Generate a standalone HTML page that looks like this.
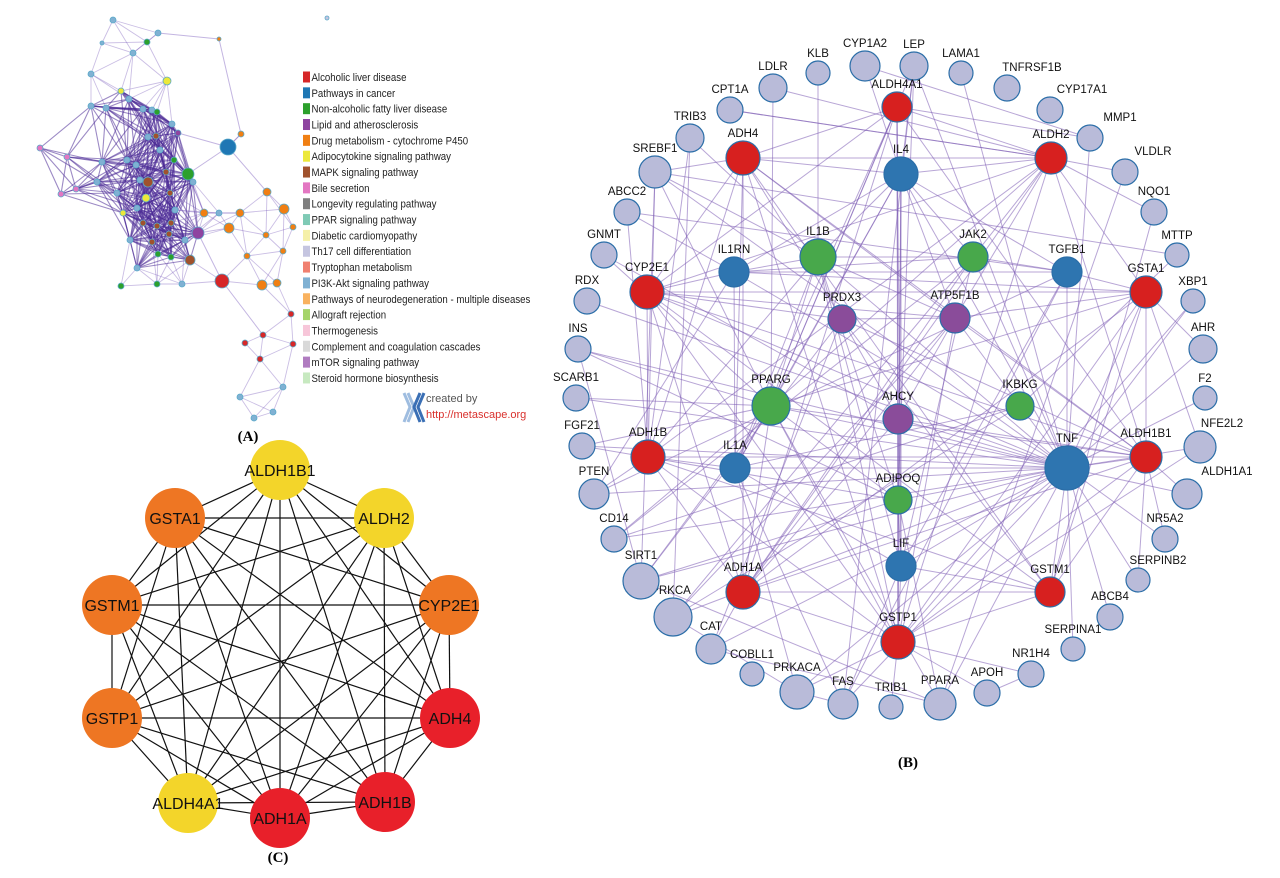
<!DOCTYPE html>
<html><head><meta charset="utf-8"><style>
html,body{margin:0;padding:0;background:#fff;}
svg{display:block;font-family:"Liberation Sans",sans-serif;}
</style></head><body>
<svg id="fig" width="1280" height="878" viewBox="0 0 1280 878" xmlns="http://www.w3.org/2000/svg">
<g id="pa-edges"></g>
<g id="pa-nodes"></g>
<g id="pa-legend"></g>
<g>
<path d="M404 393 L410 407 L404 422 M408 393 L414 407 L408 422" stroke="#9fbde0" stroke-width="3" fill="none"/>
<path d="M420 393 L414 407 L420 422 M424 393 L418 407 L424 422" stroke="#3a6fb5" stroke-width="3" fill="none"/>
<text x="426" y="402" font-size="11" fill="#555">created by</text>
<text x="426" y="418" font-size="11" fill="#d9302c">http://metascape.org</text>
</g>
<text x="248" y="441" font-size="15" font-weight="bold" font-family="Liberation Serif,serif" text-anchor="middle">(A)</text>
<g id="pb-edges"></g>
<g id="pb-nodes"></g>
<text x="908" y="767" font-size="15" font-weight="bold" font-family="Liberation Serif,serif" text-anchor="middle">(B)</text>
<g id="pc-edges"></g>
<g id="pc-nodes"></g>
<text x="278" y="862" font-size="15" font-weight="bold" font-family="Liberation Serif,serif" text-anchor="middle">(C)</text>
</svg>
<script>
const NS="http://www.w3.org/2000/svg";
// ---- Panel A legend data
const legendLabels=["Alcoholic liver disease","Pathways in cancer","Non-alcoholic fatty liver disease","Lipid and atherosclerosis","Drug metabolism - cytochrome P450","Adipocytokine signaling pathway","MAPK signaling pathway","Bile secretion","Longevity regulating pathway","PPAR signaling pathway","Diabetic cardiomyopathy","Th17 cell differentiation","Tryptophan metabolism","PI3K-Akt signaling pathway","Pathways of neurodegeneration - multiple diseases","Allograft rejection","Thermogenesis","Complement and coagulation cascades","mTOR signaling pathway","Steroid hormone biosynthesis"];
const legendColors=["#d62728","#1f77b4","#2ca02c","#8e44a0","#f07f13","#ece83a","#a0522d","#e377c2","#7f7f7f","#7fcab5","#f5f0a8","#c5c5e0","#f08070","#80b1d3","#f9b25f","#a6d46a","#f7c6d9","#d9d9d9","#b07cc0","#c7e9c0"];
// ---- Panel A nodes [x,y,r,colorIndex]
const aNodes=[[113,20,3,13],[158,33,3,13],[219,39,2,4],[327,18,2,11],[102,43,2,13],[147,42,3,2],[133,53,3,13],[91,74,3,13],[167,81,4,5],[121,91,3,5],[91,106,3,13],[106,108,3,13],[129,99,3,13],[143,109,3,13],[152,110,3,13],[157,112,3,2],[172,124,3,13],[178,133,3,3],[241,134,3,4],[228,147,8,1],[40,148,3,7],[67,157,3,7],[102,162,3,13],[127,160,3,13],[148,137,3,13],[156,136,3,6],[174,160,3,2],[166,172,3,6],[188,174,6,2],[193,182,3,13],[148,182,5,6],[97,182,3,13],[76,189,3,7],[61,194,3,7],[117,193,3,13],[146,198,4,5],[137,208,3,13],[123,213,3,5],[170,193,3,6],[204,213,4,4],[219,213,3,13],[240,213,4,4],[267,192,4,4],[284,209,5,4],[229,228,5,4],[198,233,6,3],[293,227,3,4],[266,235,3,4],[283,251,3,4],[247,256,3,4],[143,223,3,6],[157,226,3,6],[171,223,3,6],[169,234,3,6],[152,242,3,6],[158,254,3,2],[171,257,3,2],[190,260,5,6],[137,268,3,13],[121,286,3,2],[157,284,3,2],[182,284,3,13],[222,281,7,0],[262,285,5,4],[277,283,4,4],[291,314,3,0],[263,335,3,0],[245,343,3,0],[293,344,3,0],[260,359,3,0],[240,397,3,13],[283,387,3,13],[254,418,3,13],[273,412,3,13],[136,165,3,13],[160,150,3,13],[140,180,3,13],[175,210,3,13],[130,240,3,13],[185,240,3,13]];
// ---- Panel B nodes
const bNames=["LDLR","KLB","CYP1A2","LEP","LAMA1","TNFRSF1B","CYP17A1","MMP1","VLDLR","NQO1","MTTP","XBP1","AHR","F2","NFE2L2","ALDH1A1","NR5A2","SERPINB2","ABCB4","SERPINA1","NR1H4","APOH","PPARA","TRIB1","FAS","PRKACA","COBLL1","CAT","PRKCA","SIRT1","CD14","PTEN","FGF21","SCARB1","INS","RDX","GNMT","ABCC2","SREBF1","TRIB3","CPT1A",
"ALDH4A1","ADH4","ALDH2","IL4","IL1B","JAK2","IL1RN","TGFB1","CYP2E1","GSTA1","PRDX3","ATP5F1B","PPARG","AHCY","IKBKG","ADH1B","IL1A","TNF","ALDH1B1","ADIPOQ","LIF","ADH1A","GSTM1","GSTP1"];
const bX=[773,818,865,914,961,1007,1050,1090,1125,1154,1177,1193,1203,1205,1200,1187,1165,1138,1110,1073,1031,987,940,891,843,797,752,711,673,641,614,594,582,576,578,587,604,627,655,690,730,
897,743,1051,901,818,973,734,1067,647,1146,842,955,771,898,1020,648,735,1067,1146,898,901,743,1050,898];
const bY=[88,73,66,66,73,88,110,138,172,212,255,301,349,398,447,494,539,580,617,649,674,693,704,707,704,692,674,649,617,581,539,494,446,398,349,301,255,212,172,138,110,
107,158,158,174,257,257,272,272,292,292,319,318,406,419,406,457,468,468,457,500,566,592,592,642];
const bR=[14,12,15,14,12,13,13,13,13,13,12,12,14,12,16,15,13,12,13,12,13,13,16,12,15,17,12,15,19,18,13,15,13,13,13,13,13,13,16,14,13,
15,17,16,17,18,15,15,15,17,16,14,15,19,15,14,17,15,22,16,14,15,17,15,17];
const bGroup=[0,0,0,0,0,0,0,0,0,0,0,0,0,0,0,0,0,0,0,0,0,0,0,0,0,0,0,0,0,0,0,0,0,0,0,0,0,0,0,0,0,
1,1,1,2,3,3,2,2,1,1,4,4,3,4,3,1,2,2,1,3,2,1,1,1];
const bLabelDX=[0,0,0,0,0,25,32,30,28,0,0,0,0,0,22,40,0,20,0,0,0,0,0,0,0,0,0,0,-2,0,0,0,0,0,0,0,0,0,0,0,0,
0,0,0,0,0,0,0,0,0,0,0,0,0,0,0,0,0,0,0,0,0,0,0,0];
const bEdges="TNF-IL4 TNF-IL1B TNF-JAK2 TNF-TGFB1 TNF-IL1RN TNF-IL1A TNF-PPARG TNF-ADIPOQ TNF-LIF TNF-IKBKG TNF-AHCY TNF-SREBF1 TNF-CYP2E1 TNF-GSTA1 TNF-ALDH1A1 TNF-NFE2L2 TNF-NR5A2 TNF-SERPINB2 TNF-ABCB4 TNF-SERPINA1 TNF-PRKCA TNF-SIRT1 TNF-INS TNF-SCARB1 TNF-FGF21 TNF-PTEN TNF-CD14 TNF-LEP TNF-MMP1 TNF-FAS TNF-PPARA TNF-CAT TNF-XBP1 TNF-AHR TNF-F2 TNF-ALDH1B1 TNF-GSTM1 TNF-PRKACA TNF-LAMA1 TNF-RDX "+
"IL4-IL1B IL4-IL1A IL4-LIF IL4-IL1RN IL4-TGFB1 IL4-JAK2 IL4-PPARG IL4-GSTP1 IL4-ADIPOQ IL4-CYP1A2 IL4-ADH4 IL4-ALDH2 IL4-LEP "+
"IL1B-IL1RN IL1B-JAK2 IL1B-PPARG IL1B-IL1A IL1B-ADH1B IL1B-GSTP1 IL1B-ATP5F1B IL1B-TRIB3 IL1B-KLB IL1B-SREBF1 IL1B-LIF IL1B-ADIPOQ "+
"ADH4-ALDH2 ADH4-ALDH4A1 ADH4-CYP2E1 ADH4-ADH1B ADH4-ADH1A ADH4-GSTP1 ADH4-ALDH1B1 ADH4-IL1A ADH4-ATP5F1B ADH4-GSTM1 ADH4-SREBF1 "+
"ALDH2-ALDH4A1 ALDH2-CYP2E1 ALDH2-GSTA1 ALDH2-ADH1A ALDH2-ADH1B ALDH2-ALDH1B1 ALDH2-PPARG ALDH2-JAK2 ALDH2-ATP5F1B ALDH2-GSTP1 ALDH2-NQO1 ALDH2-VLDLR ALDH2-CPT1A "+
"ALDH4A1-CYP2E1 ALDH4A1-ADH1A ALDH4A1-GSTP1 ALDH4A1-AHCY ALDH4A1-PPARG ALDH4A1-ALDH1B1 ALDH4A1-LIF ALDH4A1-IL1A ALDH4A1-MMP1 "+
"CYP2E1-GSTA1 CYP2E1-ADH1B CYP2E1-ADH1A CYP2E1-GSTP1 CYP2E1-PRDX3 CYP2E1-ALDH1B1 CYP2E1-GSTM1 CYP2E1-IL1RN CYP2E1-ATP5F1B "+
"GSTA1-GSTP1 GSTA1-GSTM1 GSTA1-ADH1A GSTA1-ALDH1B1 GSTA1-PPARG GSTA1-NFE2L2 GSTA1-ATP5F1B GSTA1-IL1RN GSTA1-AHR "+
"PRDX3-ATP5F1B PRDX3-AHCY PRDX3-ALDH1B1 PRDX3-GSTM1 PRDX3-CAT PRDX3-SIRT1 PRDX3-ADH4 "+
"ATP5F1B-AHCY ATP5F1B-GSTP1 ATP5F1B-ADH1A ATP5F1B-ALDH1B1 ATP5F1B-PRKCA ATP5F1B-IL4 "+
"PPARG-ADIPOQ PPARG-SCARB1 PPARG-LEP PPARG-PPARA PPARG-SIRT1 PPARG-IL1A PPARG-FGF21 PPARG-ALDH1B1 PPARG-INS PPARG-ADH1A PPARG-GSTP1 PPARG-SREBF1 PPARG-LDLR PPARG-CD14 "+
"ADIPOQ-LEP ADIPOQ-PPARA ADIPOQ-INS ADIPOQ-FGF21 ADIPOQ-SIRT1 ADIPOQ-GSTP1 ADIPOQ-LIF AHCY-GNMT AHCY-GSTP1 AHCY-ALDH1B1 AHCY-ADH1A "+
"IKBKG-PRKCA IKBKG-IL1A IKBKG-ATP5F1B IKBKG-CD14 IKBKG-MTTP JAK2-LIF JAK2-IL1RN JAK2-TGFB1 JAK2-CD14 JAK2-PRKCA JAK2-ADH1A "+
"TGFB1-IL1RN TGFB1-LIF TGFB1-GSTA1 TGFB1-ABCC2 TGFB1-FAS TGFB1-PTEN IL1RN-IL1A IL1RN-PTEN IL1RN-ABCC2 IL1A-LIF IL1A-ADH1B IL1A-FAS IL1A-PRKACA LIF-GSTM1 LIF-GSTP1 LIF-FAS "+
"ADH1B-ADH1A ADH1B-GSTP1 ADH1B-GSTM1 ADH1B-ALDH1B1 ADH1B-ABCC2 ADH1B-PTEN ADH1B-SREBF1 ADH1B-TRIB3 ADH1A-GSTP1 ADH1A-GSTM1 ADH1A-ALDH1B1 ADH1A-CAT GSTM1-GSTP1 GSTM1-ALDH1B1 GSTM1-NQO1 "+
"GSTP1-ALDH1B1 GSTP1-NFE2L2 GSTP1-PRKACA GSTP1-TRIB1 GSTP1-APOH GSTP1-NR1H4 ALDH1B1-ALDH1A1 ALDH1B1-NR5A2 ALDH1B1-SERPINB2 "+
"LDLR-ALDH2 SREBF1-MTTP GNMT-PPARG INS-SIRT1 CYP1A2-MMP1 LEP-FAS XBP1-GSTP1 VLDLR-PPARA CPT1A-ALDH2 PRKCA-PRKACA CAT-PPARA SIRT1-PPARA PRKACA-FAS TRIB3-PRKCA SREBF1-SIRT1 APOH-NR1H4";
// ---- Panel C
const cNames=["ALDH1B1","ALDH2","CYP2E1","ADH4","ADH1B","ADH1A","ALDH4A1","GSTP1","GSTM1","GSTA1"];
const cX=[280,384,449,450,385,280,188,112,112,175];
const cY=[470,518,605,718,802,818,803,718,605,518];
const cColor=["#f3d52a","#f3d52a","#ee7623","#e8202a","#e8202a","#e8202a","#f3d52a","#ee7623","#ee7623","#ee7623"];

function mk(tag,parent,attrs){const e=document.createElementNS(NS,tag);for(const k in attrs)e.setAttribute(k,attrs[k]);parent.appendChild(e);return e;}
const leg=document.getElementById('pa-legend');
legendLabels.forEach((t,i)=>{
 const y=77+i*15.84;
 const r=mk('rect',leg,{x:303,y:y-5.5,width:7,height:11,fill:legendColors[i]});
 
 
 const tx=mk('text',leg,{x:0,y:0,'font-size':11.5,fill:'#222',transform:`translate(311.5,${y+4}) scale(0.84,1)`});
 tx.textContent=t;
 
 
});
const pae=document.getElementById('pa-edges');
for(let i=0;i<aNodes.length;i++)for(let j=i+1;j<aNodes.length;j++){
 const a=aNodes[i],b=aNodes[j];const d=Math.hypot(a[0]-b[0],a[1]-b[1]);
 const cen=(a[0]<200&&b[0]<200&&a[1]>90&&b[1]>90&&a[1]<270&&b[1]<270);
 if(d<(cen?70:48)){
  const l=mk('line',pae,{x1:a[0],y1:a[1],x2:b[0],y2:b[1],stroke:cen?'#4a2a96':'#7a5cbc','stroke-width':cen?1.1:0.9,'stroke-opacity':cen?0.55:0.4});
  
  
 }
}
[[1,2],[2,18],[18,19],[19,28],[19,42],[45,62],[62,66],[28,39],[19,17]].forEach(p=>{
 const a=aNodes[p[0]],b=aNodes[p[1]];
 const l=mk('line',pae,{x1:a[0],y1:a[1],x2:b[0],y2:b[1],stroke:'#7a5cbc','stroke-width':1,'stroke-opacity':0.45});
 
 
});
const pan=document.getElementById('pa-nodes');
aNodes.forEach(n=>{
 const c=mk('circle',pan,{cx:n[0],cy:n[1],r:n[2],fill:legendColors[n[3]],stroke:'#5aa9c9','stroke-width':0.8});
 
 
});
const fills=["#b9bbd9","#d7201f","#2e75b0","#48a84b","#8a4c9a"];
const idx={};bNames.forEach((n,i)=>idx[n]=i);
const pbe=document.getElementById('pb-edges');
bEdges.split(' ').forEach(p=>{
 const [a,b]=p.split('-');const i=idx[a],j=idx[b];if(i===undefined||j===undefined)return;
 const l=mk('line',pbe,{x1:bX[i],y1:bY[i],x2:bX[j],y2:bY[j],stroke:'#7d5cb5','stroke-width':1,'stroke-opacity':0.55});
 
 
});
const pbn=document.getElementById('pb-nodes');
bNames.forEach((n,i)=>{
 const c=mk('circle',pbn,{cx:bX[i],cy:bY[i],r:bR[i],fill:fills[bGroup[i]],stroke:'#2b6ea8','stroke-width':1.2});
 
 
 const t=mk('text',pbn,{x:bX[i]+bLabelDX[i],y:bY[i]-bR[i]-4,'font-size':11.5,'text-anchor':'middle',fill:'#111'});
 t.textContent=n;
 
 
});
const pce=document.getElementById('pc-edges');
for(let i=0;i<cNames.length;i++)for(let j=i+1;j<cNames.length;j++){
 const l=mk('line',pce,{x1:cX[i],y1:cY[i],x2:cX[j],y2:cY[j],stroke:'#111','stroke-width':1.2});
 
 
}
const pcn=document.getElementById('pc-nodes');
cNames.forEach((n,i)=>{
 const c=mk('circle',pcn,{cx:cX[i],cy:cY[i],r:30,fill:cColor[i]});
 
 
 const t=mk('text',pcn,{x:cX[i],y:cY[i]+6,'font-size':16,'text-anchor':'middle',fill:'#111'});
 t.textContent=n;
 
 
});
</script>
</body></html>
